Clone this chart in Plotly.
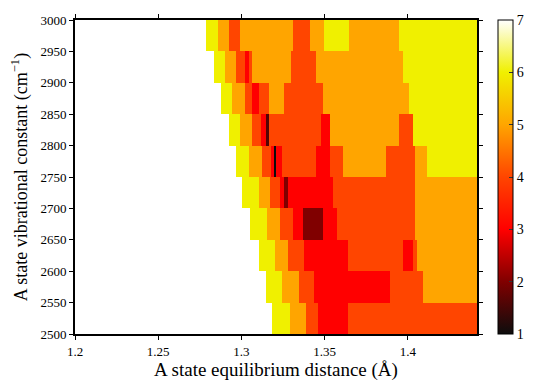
import plotly.graph_objects as go

# Row lower edges of the vibrational-constant bins (cm^-1), each bin is 50 wide
row_y = [2950, 2900, 2850, 2800, 2750, 2700, 2650, 2600, 2550, 2500]
bin_height = 50

# Equilibrium-distance cell edges (Angstrom) for each row, and the cell values
row_edges = [
    [1.2, 1.2789, 1.2859, 1.2923, 1.2993, 1.3308, 1.3414, 1.3498, 1.3644, 1.3947, 1.4416],
    [1.2, 1.2835, 1.2899, 1.2969, 1.3019, 1.3043, 1.3065, 1.3298, 1.3448, 1.3971, 1.4416],
    [1.2, 1.2875, 1.2945, 1.3019, 1.3065, 1.3105, 1.3163, 1.3258, 1.3488, 1.4007, 1.4416],
    [1.2, 1.2923, 1.2993, 1.3065, 1.3115, 1.3149, 1.3163, 1.3478, 1.3532, 1.3947, 1.4033, 1.4416],
    [1.2, 1.2969, 1.3043, 1.3125, 1.3175, 1.3193, 1.3208, 1.3244, 1.3448, 1.3534, 1.3608, 1.3871, 1.4041, 1.4113, 1.4416],
    [1.2, 1.3005, 1.3105, 1.3173, 1.3234, 1.3254, 1.3282, 1.3548, 1.4041, 1.4416],
    [1.2, 1.3053, 1.3153, 1.3234, 1.3308, 1.3368, 1.3488, 1.3572, 1.4041, 1.4416],
    [1.2, 1.3103, 1.3199, 1.3282, 1.3378, 1.3642, 1.3971, 1.4033, 1.4057, 1.4416],
    [1.2, 1.3149, 1.3244, 1.3344, 1.3438, 1.3893, 1.4091, 1.4416],
    [1.2, 1.3185, 1.3294, 1.3390, 1.3462, 1.3642, 1.4416],
]
row_values = [
    [7, 6, 5, 4, 5, 4, 5, 6, 5, 6],
    [7, 6, 5, 4, 3, 4, 5, 4, 5, 6],
    [7, 6, 5, 4, 3, 4, 5, 4, 5, 6],
    [7, 6, 5, 4, 3, 1.6, 4, 3, 5, 4, 6],
    [7, 6, 5, 4, 3, 1, 3, 4, 3, 4, 5, 4, 5, 6],
    [7, 6, 5, 4, 3, 2, 3, 4, 5],
    [7, 6, 5, 4, 3, 2, 3, 4, 5],
    [7, 6, 5, 4, 3, 4, 3, 4, 5],
    [7, 6, 5, 4, 3, 4, 5],
    [7, 6, 5, 4, 3, 4],
]

colorbar_ticks = [1, 2, 3, 4, 5, 6, 7]
x_ticks = [1.2, 1.25, 1.3, 1.35, 1.4]
y_ticks = list(range(2500, 3001, 50))

# Build one common grid from the union of all row edges
all_edges = sorted(set(e for edges in row_edges for e in edges))
y_edges = sorted(row_y) + [max(row_y) + bin_height]
z = []
for y0 in sorted(row_y):
    i = row_y.index(y0)
    edges, vals = row_edges[i], row_values[i]
    row = []
    for a, b in zip(all_edges[:-1], all_edges[1:]):
        mid = (a + b) / 2
        k = 0
        while k < len(vals) - 1 and mid > edges[k + 1]:
            k += 1
        row.append(vals[k])
    z.append(row)

hot_scale = [
    [0.0, "#0d0d0d"],
    [1 / 6, "#800000"],
    [2 / 6, "#ff0000"],
    [3 / 6, "#ff4500"],
    [4 / 6, "#ffa500"],
    [5 / 6, "#f0f000"],
    [1.0, "#ffffff"],
]

fig = go.Figure(go.Heatmap(
    x=all_edges, y=y_edges, z=z,
    coloraxis="coloraxis", zsmooth=False,
))

serif = "Liberation Serif"
fig.update_layout(
    width=532, height=381,
    margin=dict(l=67, r=62, t=12, b=55),
    paper_bgcolor="white", plot_bgcolor="white",
    font=dict(family=serif, size=13, color="black"),
    coloraxis=dict(
        colorscale=hot_scale, cmin=1, cmax=7,
        colorbar=dict(
            x=1.05, xanchor="left", xpad=0,
            y=0.5, yanchor="middle", ypad=0,
            len=1.0, lenmode="fraction",
            thickness=15, thicknessmode="pixels",
            outlinecolor="black", outlinewidth=1,
            tickvals=colorbar_ticks, ticks="inside", ticklen=4,
            tickcolor="#333333",
            tickfont=dict(family=serif, size=14, color="black"),
        ),
    ),
    showlegend=False,
)
fig.update_xaxes(
    range=[1.2, 1.4416], tickvals=x_ticks, ticktext=[str(v) for v in x_ticks],
    showline=True, linecolor="black", linewidth=2, mirror="ticks",
    ticks="outside", ticklen=4, tickwidth=1, tickcolor="black",
    showgrid=False, zeroline=False, automargin=False,
    tickfont=dict(family=serif, size=13),
    title=dict(text="A state equilibrium distance (Å)", font=dict(family=serif, size=19), standoff=2),
)
fig.update_yaxes(
    range=[2500, 3000], tickvals=y_ticks,
    showline=True, linecolor="black", linewidth=2, mirror="ticks",
    ticks="outside", ticklen=4, tickwidth=1, tickcolor="black",
    showgrid=False, zeroline=False, automargin=False,
    tickfont=dict(family=serif, size=13),
    title=dict(text="A state vibrational constant (cm<sup>−1</sup>)", font=dict(family=serif, size=18), standoff=12),
)

fig.write_html("out.html")
